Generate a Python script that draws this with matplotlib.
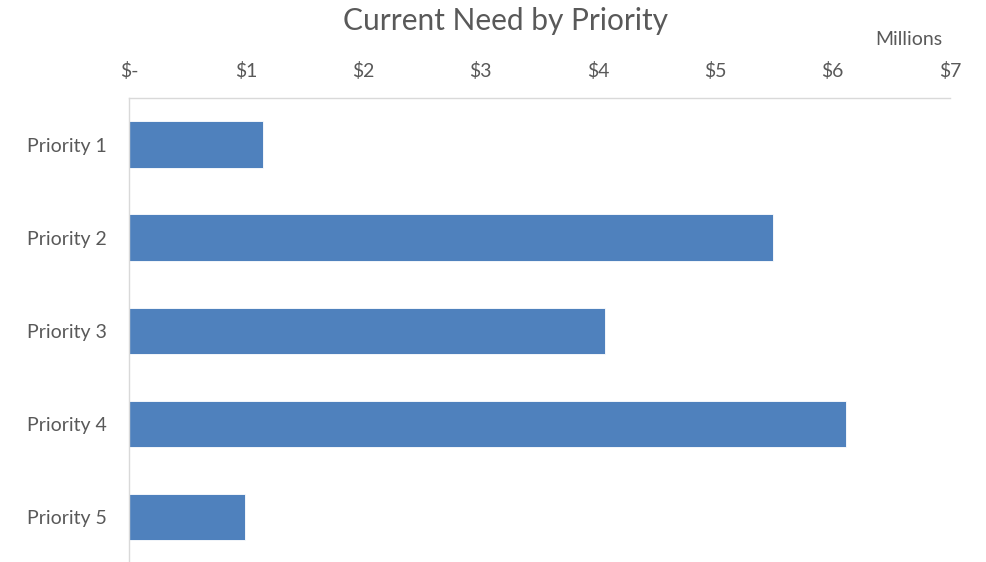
import matplotlib.pyplot as plt
import matplotlib.ticker as mticker

categorias = ['Priority 1', 'Priority 2', 'Priority 3', 'Priority 4', 'Priority 5']
valores = [1.14, 5.49, 4.06, 6.11, 0.99]  # em milhoes
ticks_x = [0, 1, 2, 3, 4, 5, 6, 7]
rotulos_x = ['$-', '$1', '$2', '$3', '$4', '$5', '$6', '$7']

cinza = '#595959'
azul = '#4F81BD'

plt.rcParams['font.family'] = ['Lato', 'DejaVu Sans']

fig = plt.figure(figsize=(9.86, 5.62), dpi=100)
ax = fig.add_axes([0.1308, -0.003, 0.8327, 0.8286])

ax.barh(categorias, valores, height=0.5, color=azul, edgecolor='white', linewidth=0.6)
ax.set_xlim(0, 7)
ax.set_ylim(4.5, -0.5)

ax.xaxis.tick_top()
ax.set_xticks(ticks_x)
ax.set_xticklabels(rotulos_x)
ax.tick_params(axis='x', length=0, pad=13, labelsize=14, labelcolor=cinza)
ax.tick_params(axis='y', length=0, pad=16, labelsize=14, labelcolor=cinza)

for lado in ['right', 'bottom']:
	ax.spines[lado].set_visible(False)
ax.spines['top'].set_color('#D9D9D9')
ax.spines['left'].set_color('#D9D9D9')
ax.spines['top'].set_linewidth(1)
ax.spines['left'].set_linewidth(1)

fig.text(0.513, 0.963, 'Current Need by Priority', ha='center', va='center', fontsize=21.5, color=cinza)
fig.text(0.922, 0.929, 'Millions', ha='center', va='center', fontsize=14, color=cinza)

plt.savefig('out.png', dpi=100)
